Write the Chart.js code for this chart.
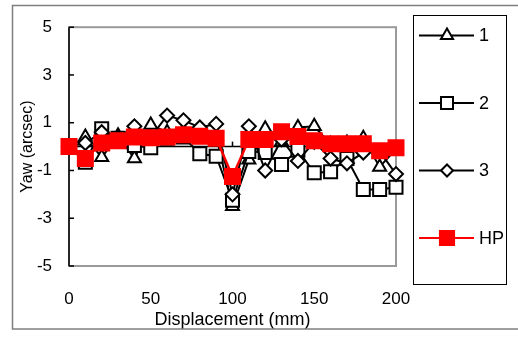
<!DOCTYPE html>
<html><head><meta charset="utf-8">
<script src="https://cdn.jsdelivr.net/npm/chart.js@4.4.0/dist/chart.umd.min.js"></script>
<style>html,body{margin:0;padding:0;background:#fff;}</style>
</head><body>
<canvas id="c" width="518" height="338"></canvas>
<script>
const displacement = [0,10,20,30,40,50,60,70,80,90,100,110,120,130,140,150,160,170,180,190,200];
const yaw1  = [0, 0.4, -0.45, 0.45, -0.5, 0.9, 0.6, 0.65, 0.5, 0.45, -2.5, -0.55, 0.75, 0.2, 0.8, 0.85, 0.1, 0.15, 0.35, -0.85, -0.1];
const yaw2  = [0, -0.65, 0.75, 0.35, 0.05, -0.05, 0.35, 0.4, -0.3, -0.4, -2.25, -0.2, -0.25, -0.75, -0.15, -1.1, -1.05, -0.5, -1.8, -1.8, -1.7];
const yaw3  = [0, 0.15, 0.6, 0.35, 0.85, 0.4, 1.3, 1.1, 0.8, 0.95, -2.0, 0.85, -1.0, 0.3, -0.6, 0.2, -0.5, -0.7, -0.25, -0.2, -1.15];
const yawHP = [0, -0.5, 0.15, 0.25, 0.4, 0.37, 0.4, 0.5, 0.43, 0.35, -1.25, 0.3, 0.3, 0.62, 0.42, 0.25, 0.12, 0.12, 0.12, -0.17, -0.05];
const seriesLabels = ['1', '2', '3', 'HP'];
const xTicks = [0, 50, 100, 150, 200];
const yTicks = [-5, -3, -1, 1, 3, 5];
const xTitle = 'Displacement (mm)';
const yTitle = 'Yaw (arcsec)';

const FONT = "'Liberation Sans',Arial,sans-serif";
Chart.defaults.font.family = FONT;
Chart.defaults.font.size = 17;
Chart.defaults.color = '#000';

const pts = arr => displacement.map((x, i) => ({x: x, y: arr[i]}));

const styles = [
  {pointStyle: 'triangle', radius: 7.5, lr: 7, color: '#000', fill: '#fff', order: 3, lw: 2},
  {pointStyle: 'rect', radius: 9.2, lr: 8.5, color: '#000', fill: '#fff', order: 2, lw: 2},
  {pointStyle: 'rectRot', radius: 7, lr: 6, color: '#000', fill: '#fff', order: 1, lw: 2},
  {pointStyle: 'rect', radius: 10.6, lr: 10, color: '#ff0000', fill: '#ff0000', order: 0, lw: 2.5}
];
const allData = [yaw1, yaw2, yaw3, yawHP];

const datasets = allData.map((d, i) => ({
  label: seriesLabels[i],
  data: pts(d),
  borderColor: styles[i].color,
  borderWidth: styles[i].lw,
  pointStyle: styles[i].pointStyle,
  pointRadius: styles[i].radius,
  pointHoverRadius: styles[i].radius,
  pointBackgroundColor: styles[i].fill,
  pointBorderColor: styles[i].color,
  pointBorderWidth: 2,
  order: styles[i].order,
  clip: false,
  tension: 0
}));

function line(ctx, x1, y1, x2, y2) { ctx.beginPath(); ctx.moveTo(x1, y1); ctx.lineTo(x2, y2); ctx.stroke(); }

const framePlugin = {
  id: 'frame',
  beforeDatasetsDraw(chart) {
    const {ctx, chartArea: {left, right, top, bottom}, scales: {x, y}} = chart;
    ctx.save();
    ctx.strokeStyle = '#7f7f7f'; ctx.lineWidth = 1.5;
    ctx.strokeRect(12.5, 5.5, 600, 323.5);
    ctx.strokeStyle = '#9a9a9a'; ctx.lineWidth = 2;
    ctx.strokeRect(left, top, right - left, bottom - top);
    ctx.strokeStyle = '#000'; ctx.lineWidth = 1.5;
    line(ctx, left, top, left, bottom);
    yTicks.forEach(v => { const py = y.getPixelForValue(v); line(ctx, left, py, left + 5, py); });
    const y0 = y.getPixelForValue(0);
    line(ctx, left, y0, right, y0);
    xTicks.forEach(v => { const px = x.getPixelForValue(v); line(ctx, px, y0, px, y0 - 5); });
    ctx.restore();
  }
};

const legendPlugin = {
  id: 'boxLegend',
  afterDraw(chart) {
    const ctx = chart.ctx;
    ctx.save();
    ctx.strokeStyle = '#000'; ctx.lineWidth = 1;
    ctx.strokeRect(413.5, 15.5, 93, 269);
    chart.data.datasets.forEach((ds, i) => {
      const cy = 35.5 + i * 67.5;
      ctx.strokeStyle = ds.borderColor; ctx.lineWidth = 2;
      line(ctx, 419, cy, 474, cy);
      ctx.fillStyle = styles[i].fill; ctx.strokeStyle = styles[i].color; ctx.lineWidth = 2;
      Chart.helpers.drawPoint(ctx, {pointStyle: styles[i].pointStyle, radius: styles[i].lr, rotation: 0, borderWidth: 2}, 447, cy);
      ctx.fillStyle = '#000';
      ctx.font = '18px ' + FONT;
      ctx.textAlign = 'left'; ctx.textBaseline = 'middle';
      ctx.fillText(ds.label, 479, cy + 1);
    });
    ctx.restore();
  }
};

new Chart(document.getElementById('c'), {
  type: 'line',
  data: {datasets: datasets},
  plugins: [framePlugin, legendPlugin],
  options: {
    responsive: false,
    animation: false,
    layout: {padding: {left: 0, right: 122, top: 24, bottom: 0}},
    plugins: {legend: {display: false}, tooltip: {enabled: false}},
    scales: {
      x: {
        type: 'linear', min: 0, max: 200,
        afterBuildTicks: s => { s.ticks = xTicks.map(v => ({value: v})); },
        afterFit: s => { s.height = 72; },
        grid: {display: false, drawTicks: false},
        border: {display: false},
        ticks: {padding: 23, maxRotation: 0, autoSkip: false, font: {size: 17}},
        title: {display: true, text: xTitle, font: {size: 18}, padding: {top: 0, bottom: 7}}
      },
      y: {
        type: 'linear', min: -5, max: 5,
        afterBuildTicks: s => { s.ticks = yTicks.map(v => ({value: v})); },
        afterFit: s => { s.width = 69; },
        grid: {display: false, drawTicks: false},
        border: {display: false},
        ticks: {padding: 17, font: {size: 17}},
        title: {display: true, text: yTitle, font: {size: 16}, padding: {top: 18, bottom: 0}}
      }
    }
  }
});
</script>
</body></html>
